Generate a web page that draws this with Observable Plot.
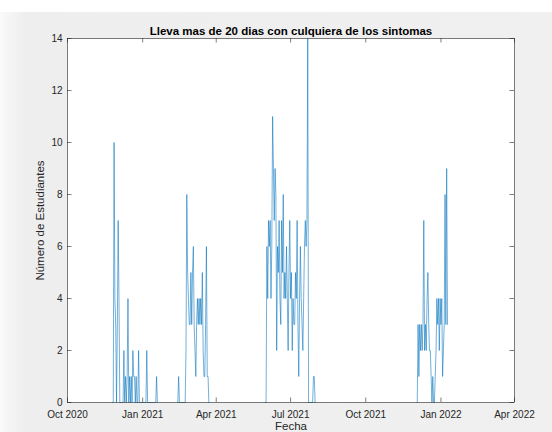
<!DOCTYPE html>
<html>
<head>
<meta charset="utf-8">
<script src="https://cdn.jsdelivr.net/npm/d3@7"></script>
<script src="https://cdn.jsdelivr.net/npm/@observablehq/plot@0.6"></script>
<style>
  html, body { margin: 0; padding: 0; background: #ffffff; }
  #fig { position: relative; width: 552px; height: 432px; overflow: hidden;
         font-family: "Liberation Sans", Arial, Helvetica, sans-serif; }
  #bg { position: absolute; left: 0; top: 12px; width: 552px; height: 420px;
        background: linear-gradient(to right, #fbfbfb 0px, #f6f6f6 6px, #eeeeee 26px, #f0f0f0 100%); }
  #chart { position: absolute; left: 0; top: 0; }
</style>
</head>
<body>
<div id="fig"><div id="bg"></div><div id="chart"></div></div>
<script>
// Texts
const title = "Lleva mas de 20 dias con culquiera de los sintomas";
const xLabel = "Fecha";
const yLabel = "Número de Estudiantes";

// Axes
const xDomain = ["2020-10-01", "2022-04-01"];
const xTicks = ["2020-10-01", "2021-01-01", "2021-04-01", "2021-07-01", "2021-10-01", "2022-01-01", "2022-04-01"];
const yDomain = [0, 14];
const yTicks = [0, 2, 4, 6, 8, 10, 12, 14];

// Daily counts, one array per wave, each starting on its date
const waveStarts = ["2020-11-25", "2021-02-13", "2021-05-31", "2021-12-03"];
const wave1 = [0, 0, 10, 4, 3, 0, 3, 7, 4, 0, 0, 0, 0, 0, 2, 0, 1, 0, 1, 4, 0, 1, 0, 1, 0, 2, 1, 1, 0, 1,
               0, 0, 2, 0, 0, 0, 0, 0, 0, 0, 0, 0, 2, 0, 0, 0, 0, 0, 0, 0, 0, 0, 0, 0, 1, 0];
const wave2 = [0, 1, 0, 0, 0, 0, 0, 0, 0, 0, 2, 8, 5, 4, 3, 3, 5, 3, 5, 6, 3, 2, 1, 3, 4, 3, 4, 3, 4, 3,
               5, 2, 1, 1, 3, 6, 1, 1, 0];
const wave3 = [0, 0, 6, 4, 7, 6, 7, 4, 6, 11, 9, 7, 9, 8, 2, 6, 5, 7, 4, 3, 7, 5, 8, 4, 5, 4, 6, 4, 2, 5,
               7, 4, 5, 2, 4, 3, 3, 5, 4, 7, 3, 1, 4, 6, 4, 3, 2, 4, 6, 7, 6, 7, 14, 0, 0, 0, 0, 0, 0, 1,
               1, 0];
const wave4 = [0, 3, 1, 3, 2, 3, 2, 3, 7, 2, 3, 2, 4, 5, 3, 2, 2, 1, 0, 1, 0, 0, 1, 2, 4, 3, 4, 2, 4, 3,
               4, 1, 2, 3, 8, 3, 9, 3];

const parse = d3.utcParse("%Y-%m-%d");
const rows = [wave1, wave2, wave3, wave4].flatMap((values, w) => {
  const start = parse(waveStarts[w]);
  return values.map((n, i) => ({date: d3.utcDay.offset(start, i), n, wave: w}));
});
const xTickDates = xTicks.map(parse);
const monthYear = d3.utcFormat("%b %Y");

const W = 552, H = 432;
const mL = 67, mR = 38, mT = 38, mB = 30;
const frameW = W - mL - mR, frameH = H - mT - mB;
const tickLen = 4.5;
const axisColor = "#262626";

const chart = Plot.plot({
  width: W,
  height: H,
  marginLeft: mL,
  marginRight: mR,
  marginTop: mT,
  marginBottom: mB,
  style: {background: "transparent", fontFamily: "Liberation Sans, Arial, sans-serif", fontSize: "10px", color: axisColor},
  x: {type: "utc", domain: xDomain.map(parse), label: null},
  y: {domain: yDomain, label: null},
  marks: [
    Plot.frame({fill: "white", stroke: null}),
    Plot.lineY(rows, {x: "date", y: "n", z: "wave", stroke: "#0072BD", strokeOpacity: 0.8, strokeWidth: 0.7}),
    // inward tick marks on all four sides
    Plot.tickX(xTickDates, {x: d => d, stroke: axisColor, strokeWidth: 0.6, insetTop: frameH - tickLen}),
    Plot.tickX(xTickDates, {x: d => d, stroke: axisColor, strokeWidth: 0.6, insetBottom: frameH - tickLen}),
    Plot.tickY(yTicks, {y: d => d, stroke: axisColor, strokeWidth: 0.6, insetRight: frameW - tickLen}),
    Plot.tickY(yTicks, {y: d => d, stroke: axisColor, strokeWidth: 0.6, insetLeft: frameW - tickLen}),
    Plot.frame({stroke: axisColor, strokeWidth: 0.6}),
    Plot.axisX(xTickDates, {anchor: "bottom", tickSize: 0, tickPadding: 8, tickFormat: monthYear, fill: axisColor, label: null}),
    Plot.axisY(yTicks, {anchor: "left", tickSize: 0, tickPadding: 5, fill: axisColor, label: null}),
    Plot.text([title], {frameAnchor: "top", lineAnchor: "bottom", dy: -3.5, fontWeight: "bold", fontSize: 11.5, fill: "#000000"}),
    Plot.text([xLabel], {frameAnchor: "bottom", lineAnchor: "bottom", dy: 27.5, fontSize: 11.5, fill: axisColor}),
    Plot.text([yLabel], {frameAnchor: "left", rotate: -90, lineAnchor: "middle", textAnchor: "middle", dx: -27, fontSize: 11.5, fill: axisColor})
  ]
});
document.getElementById("chart").appendChild(chart);
</script>
</body>
</html>
